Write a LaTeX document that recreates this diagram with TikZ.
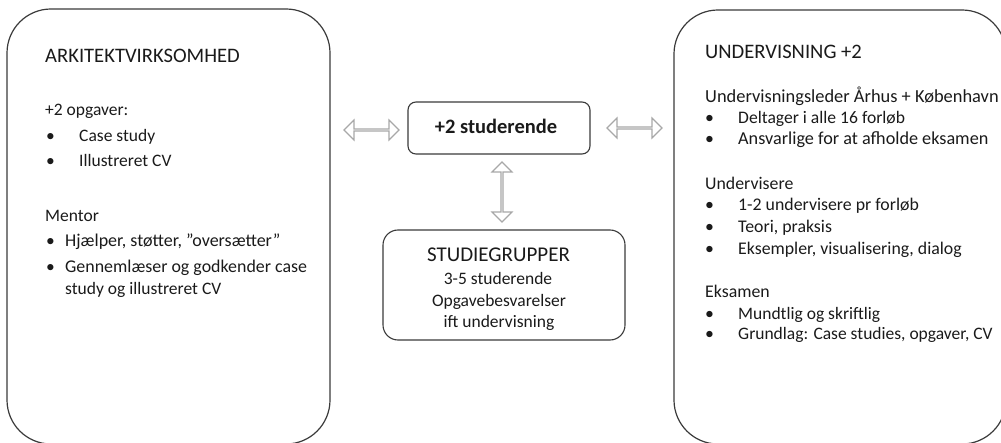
\documentclass[tikz,border=0pt]{standalone}
\usepackage{fontspec}
\setmainfont{Carlito}
\usetikzlibrary{shapes.arrows}
\definecolor{boxline}{HTML}{3A3A3A}
\definecolor{arrline}{HTML}{A8A8A8}
\definecolor{txtc}{HTML}{1A1A1A}
\tikzset{
  bigbox/.style={draw=boxline, line width=1.2pt, rounded corners=44pt},
  smallbox/.style={draw=boxline, line width=1.1pt},
  ttxt/.style={anchor=base west, inner sep=0pt, text=txtc, font=\fontsize{20.6}{24}\selectfont},
  ltxt/.style={anchor=base west, inner sep=0pt, text=txtc, font=\fontsize{17.5}{20}\selectfont},
  rtxt/.style={anchor=base west, inner sep=0pt, text=txtc, font=\fontsize{17.8}{20}\selectfont},
  ctxt/.style={anchor=base, inner sep=0pt, text=txtc, font=\fontsize{17.5}{20}\selectfont},
  darrow/.style={double arrow, draw=arrline, fill=white, line width=1.1pt, inner sep=0pt,
    minimum width=20pt, double arrow head extend=5pt, double arrow head indent=0pt}
}
\begin{document}
\begin{tikzpicture}[x=1pt,y=-1pt]
\useasboundingbox (0,0) rectangle (1001,443);
% big boxes
\node[bigbox, inner sep=0pt, minimum width=323pt, minimum height=435pt] (left) at (168.5,226.5) {};
\node[bigbox, inner sep=0pt, minimum width=332pt, minimum height=434pt] (right) at (840,227) {};
% middle boxes
\node[smallbox, rounded corners=8pt, minimum width=182pt, minimum height=52pt, inner sep=0pt] (stud) at (499,128) {};
\node[ctxt, font=\fontsize{20.5}{22}\selectfont\bfseries] (studt) at (496,134) {+2 studerende};
\node[smallbox, rounded corners=15pt, minimum width=242pt, minimum height=110pt, inner sep=0pt] (grp) at (504,285) {};
\node[ctxt, font=\fontsize{21}{22}\selectfont] (g1) at (498.5,262) {STUDIEGRUPPER};
\node[ctxt] (g2) at (498,285) {3-5 studerende};
\node[ctxt] (g3) at (499,307) {Opgavebesvarelser};
\node[ctxt] (g4) at (499,328) {ift undervisning};
% arrows
\node[darrow, minimum height=55pt] (la) at (371.5,130) {};
\node[darrow, minimum height=55pt] (ra) at (634.5,128) {};
\node[darrow, minimum height=60pt, shape border rotate=90] (va) at (502,192) {};
% left text
\node[ttxt] (l0) at (45,63) {ARKITEKTVIRKSOMHED};
\node[ltxt] (l1) at (45,116) {+2 opgaver:};
\node[ltxt] (l2b) at (46,142) {•};
\node[ltxt] (l2) at (79,142) {Case study};
\node[ltxt] (l3b) at (46,167) {•};
\node[ltxt] (l3) at (79,167) {Illustreret CV};
\node[ltxt] (l4) at (45,222) {Mentor};
\node[ltxt] (l5b) at (46,247) {•};
\node[ltxt, font=\fontsize{18}{20}\selectfont] (l5) at (65,247) {Hjælper, støtter, ”oversætter”};
\node[ltxt] (l6b) at (46,273) {•};
\node[ltxt, font=\fontsize{17.9}{20}\selectfont] (l6) at (65,273) {Gennemlæser og godkender case};
\node[ltxt] (l7) at (65,295) {study og illustreret CV};
% right text
\node[ttxt] (r0) at (705,59) {UNDERVISNING +2};
\node[rtxt, font=\fontsize{18.4}{20}\selectfont] (r1) at (705,103) {Undervisningsleder Århus + København};
\node[rtxt] (r2b) at (705,124) {•};
\node[rtxt, font=\fontsize{17.6}{20}\selectfont] (r2) at (738,124) {Deltager i alle 16 forløb};
\node[rtxt] (r3b) at (705,145) {•};
\node[rtxt, font=\fontsize{18.2}{20}\selectfont] (r3) at (738,145) {Ansvarlige for at afholde eksamen};
\node[rtxt] (r4) at (705,190) {Undervisere};
\node[rtxt] (r5b) at (705,211) {•};
\node[rtxt] (r5) at (738,211) {1-2 undervisere pr forløb};
\node[rtxt] (r6b) at (705,233) {•};
\node[rtxt] (r6) at (738,233) {Teori, praksis};
\node[rtxt] (r7b) at (705,255) {•};
\node[rtxt] (r7) at (738,255) {Eksempler, visualisering, dialog};
\node[rtxt] (r8) at (705,298) {Eksamen};
\node[rtxt] (r9b) at (705,320) {•};
\node[rtxt, font=\fontsize{17.5}{20}\selectfont] (r9) at (738,320) {Mundtlig og skriftlig};
\node[rtxt] (r10b) at (705,340) {•};
\node[rtxt, font=\fontsize{17.5}{20}\selectfont] (r10) at (738,340) {Grundlag: Case studies, opgaver, CV};
\end{tikzpicture}
\end{document}
